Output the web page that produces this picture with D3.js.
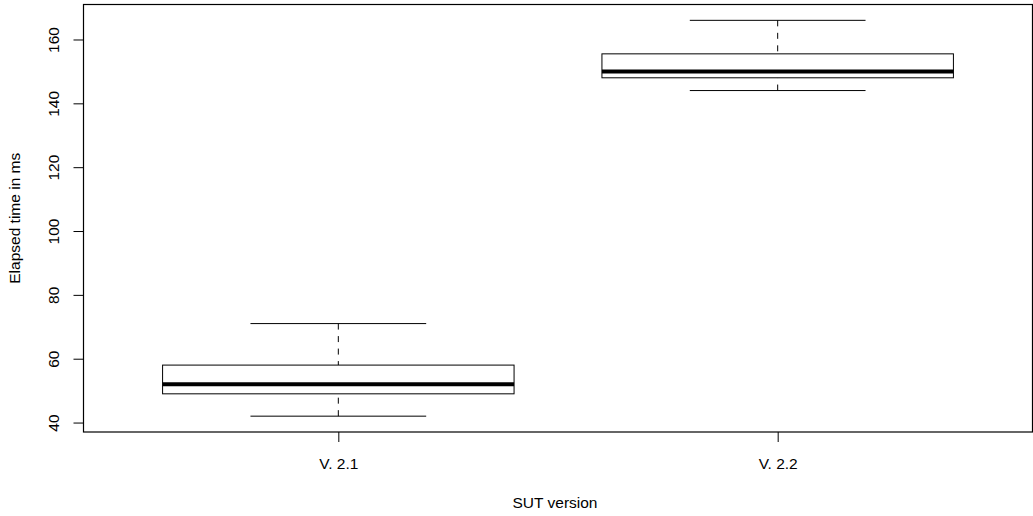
<!DOCTYPE html>
<html>
<head>
<meta charset="utf-8">
<script src="https://cdn.jsdelivr.net/npm/d3@7"></script>
<style>
  body { margin: 0; background: #fff; }
  text { font-family: "Liberation Sans", Arial, Helvetica, sans-serif; }
</style>
</head>
<body>
<div id="chart"></div>
<script>
var svgWidth = 1033;
var svgHeight = 516;

var margin = { top: 4.5, right: 0.5, bottom: 84, left: 83.5 };

var width = svgWidth - margin.left - margin.right;
var height = svgHeight - margin.top - margin.bottom;

// data
var versions = ["V. 2.1", "V. 2.2"];
var lowerWhisker = [42, 144];
var lowerQuartile = [49, 148];
var medians = [52, 150];
var upperQuartile = [58, 155.5];
var upperWhisker = [71, 166];
var yTicks = [40, 60, 80, 100, 120, 140, 160];

var fontSize = "15.5px";

var svg = d3.select("#chart")
  .append("svg")
  .attr("width", svgWidth)
  .attr("height", svgHeight);

var chartGroup = svg.append("g")
  .attr("transform", `translate(${margin.left}, ${margin.top})`);

// R style: groups at 1..n, xlim 0.5..n+0.5 extended by 4%
var xLinearScale = d3.scaleLinear()
  .domain([0.42, 2.58])
  .range([0, width]);

var yLinearScale = d3.scaleLinear()
  .domain([37.04, 170.96])
  .range([height, 0]);

var boxes = versions.map(function(v, i) {
  return {
    name: v,
    pos: i + 1,
    lo: lowerWhisker[i],
    q1: lowerQuartile[i],
    med: medians[i],
    q3: upperQuartile[i],
    hi: upperWhisker[i]
  };
});

// axes
var bottomAxis = d3.axisBottom(xLinearScale)
  .tickValues([1, 2])
  .tickFormat(function(d) { return versions[d - 1]; })
  .tickSize(10)
  .tickSizeOuter(0);

var leftAxis = d3.axisLeft(yLinearScale)
  .tickValues(yTicks)
  .tickSize(10)
  .tickSizeOuter(0);

var xAxis = chartGroup.append("g")
  .attr("transform", `translate(0, ${height})`)
  .call(bottomAxis);

xAxis.select(".domain").remove();
xAxis.selectAll("line").attr("stroke", "#000");
xAxis.selectAll("text")
  .attr("y", 37)
  .attr("dy", null)
  .attr("fill", "#000")
  .style("font-size", fontSize);

var yAxis = chartGroup.append("g")
  .call(leftAxis);

yAxis.select(".domain").remove();
yAxis.selectAll("line").attr("stroke", "#000");
yAxis.selectAll("text")
  .attr("transform", "rotate(-90)")
  .attr("x", 0)
  .attr("y", -24.5)
  .attr("dy", null)
  .attr("text-anchor", "middle")
  .attr("fill", "#000")
  .style("font-size", fontSize);

// boxes
var boxGroup = chartGroup.selectAll(".box")
  .data(boxes)
  .enter()
  .append("g")
  .classed("box", true);

var boxHalf = 0.4;
var capHalf = 0.2;

// whiskers (dashed), drawn from extreme toward box
boxGroup.append("line")
  .attr("x1", d => xLinearScale(d.pos))
  .attr("x2", d => xLinearScale(d.pos))
  .attr("y1", d => yLinearScale(d.hi))
  .attr("y2", d => yLinearScale(d.q3))
  .attr("stroke", "#000")
  .attr("stroke-dasharray", "6,6.5");

boxGroup.append("line")
  .attr("x1", d => xLinearScale(d.pos))
  .attr("x2", d => xLinearScale(d.pos))
  .attr("y1", d => yLinearScale(d.lo))
  .attr("y2", d => yLinearScale(d.q1))
  .attr("stroke", "#000")
  .attr("stroke-dasharray", "6,6.5");

// caps
boxGroup.append("line")
  .attr("x1", d => xLinearScale(d.pos - capHalf))
  .attr("x2", d => xLinearScale(d.pos + capHalf))
  .attr("y1", d => yLinearScale(d.hi))
  .attr("y2", d => yLinearScale(d.hi))
  .attr("stroke", "#000");

boxGroup.append("line")
  .attr("x1", d => xLinearScale(d.pos - capHalf))
  .attr("x2", d => xLinearScale(d.pos + capHalf))
  .attr("y1", d => yLinearScale(d.lo))
  .attr("y2", d => yLinearScale(d.lo))
  .attr("stroke", "#000");

// box body
boxGroup.append("rect")
  .attr("x", d => xLinearScale(d.pos - boxHalf))
  .attr("width", d => xLinearScale(d.pos + boxHalf) - xLinearScale(d.pos - boxHalf))
  .attr("y", d => yLinearScale(d.q3))
  .attr("height", d => yLinearScale(d.q1) - yLinearScale(d.q3))
  .attr("fill", "#fff")
  .attr("stroke", "#000");

// median
boxGroup.append("line")
  .attr("x1", d => xLinearScale(d.pos - boxHalf))
  .attr("x2", d => xLinearScale(d.pos + boxHalf))
  .attr("y1", d => yLinearScale(d.med))
  .attr("y2", d => yLinearScale(d.med))
  .attr("stroke", "#000")
  .attr("stroke-width", 4);

// plot frame
chartGroup.append("rect")
  .attr("x", 0)
  .attr("y", 0)
  .attr("width", width)
  .attr("height", height)
  .attr("fill", "none")
  .attr("stroke", "#000")
  .attr("stroke-width", 1.2);

// axis titles
chartGroup.append("text")
  .attr("x", width / 2 - 3)
  .attr("y", height + 75.5)
  .attr("text-anchor", "middle")
  .style("font-size", fontSize)
  .text("SUT version");

chartGroup.append("text")
  .attr("transform", "rotate(-90)")
  .attr("x", 0 - (height / 2))
  .attr("y", 20 - margin.left)
  .attr("text-anchor", "middle")
  .style("font-size", fontSize)
  .text("Elapsed time in ms");
</script>
</body>
</html>
